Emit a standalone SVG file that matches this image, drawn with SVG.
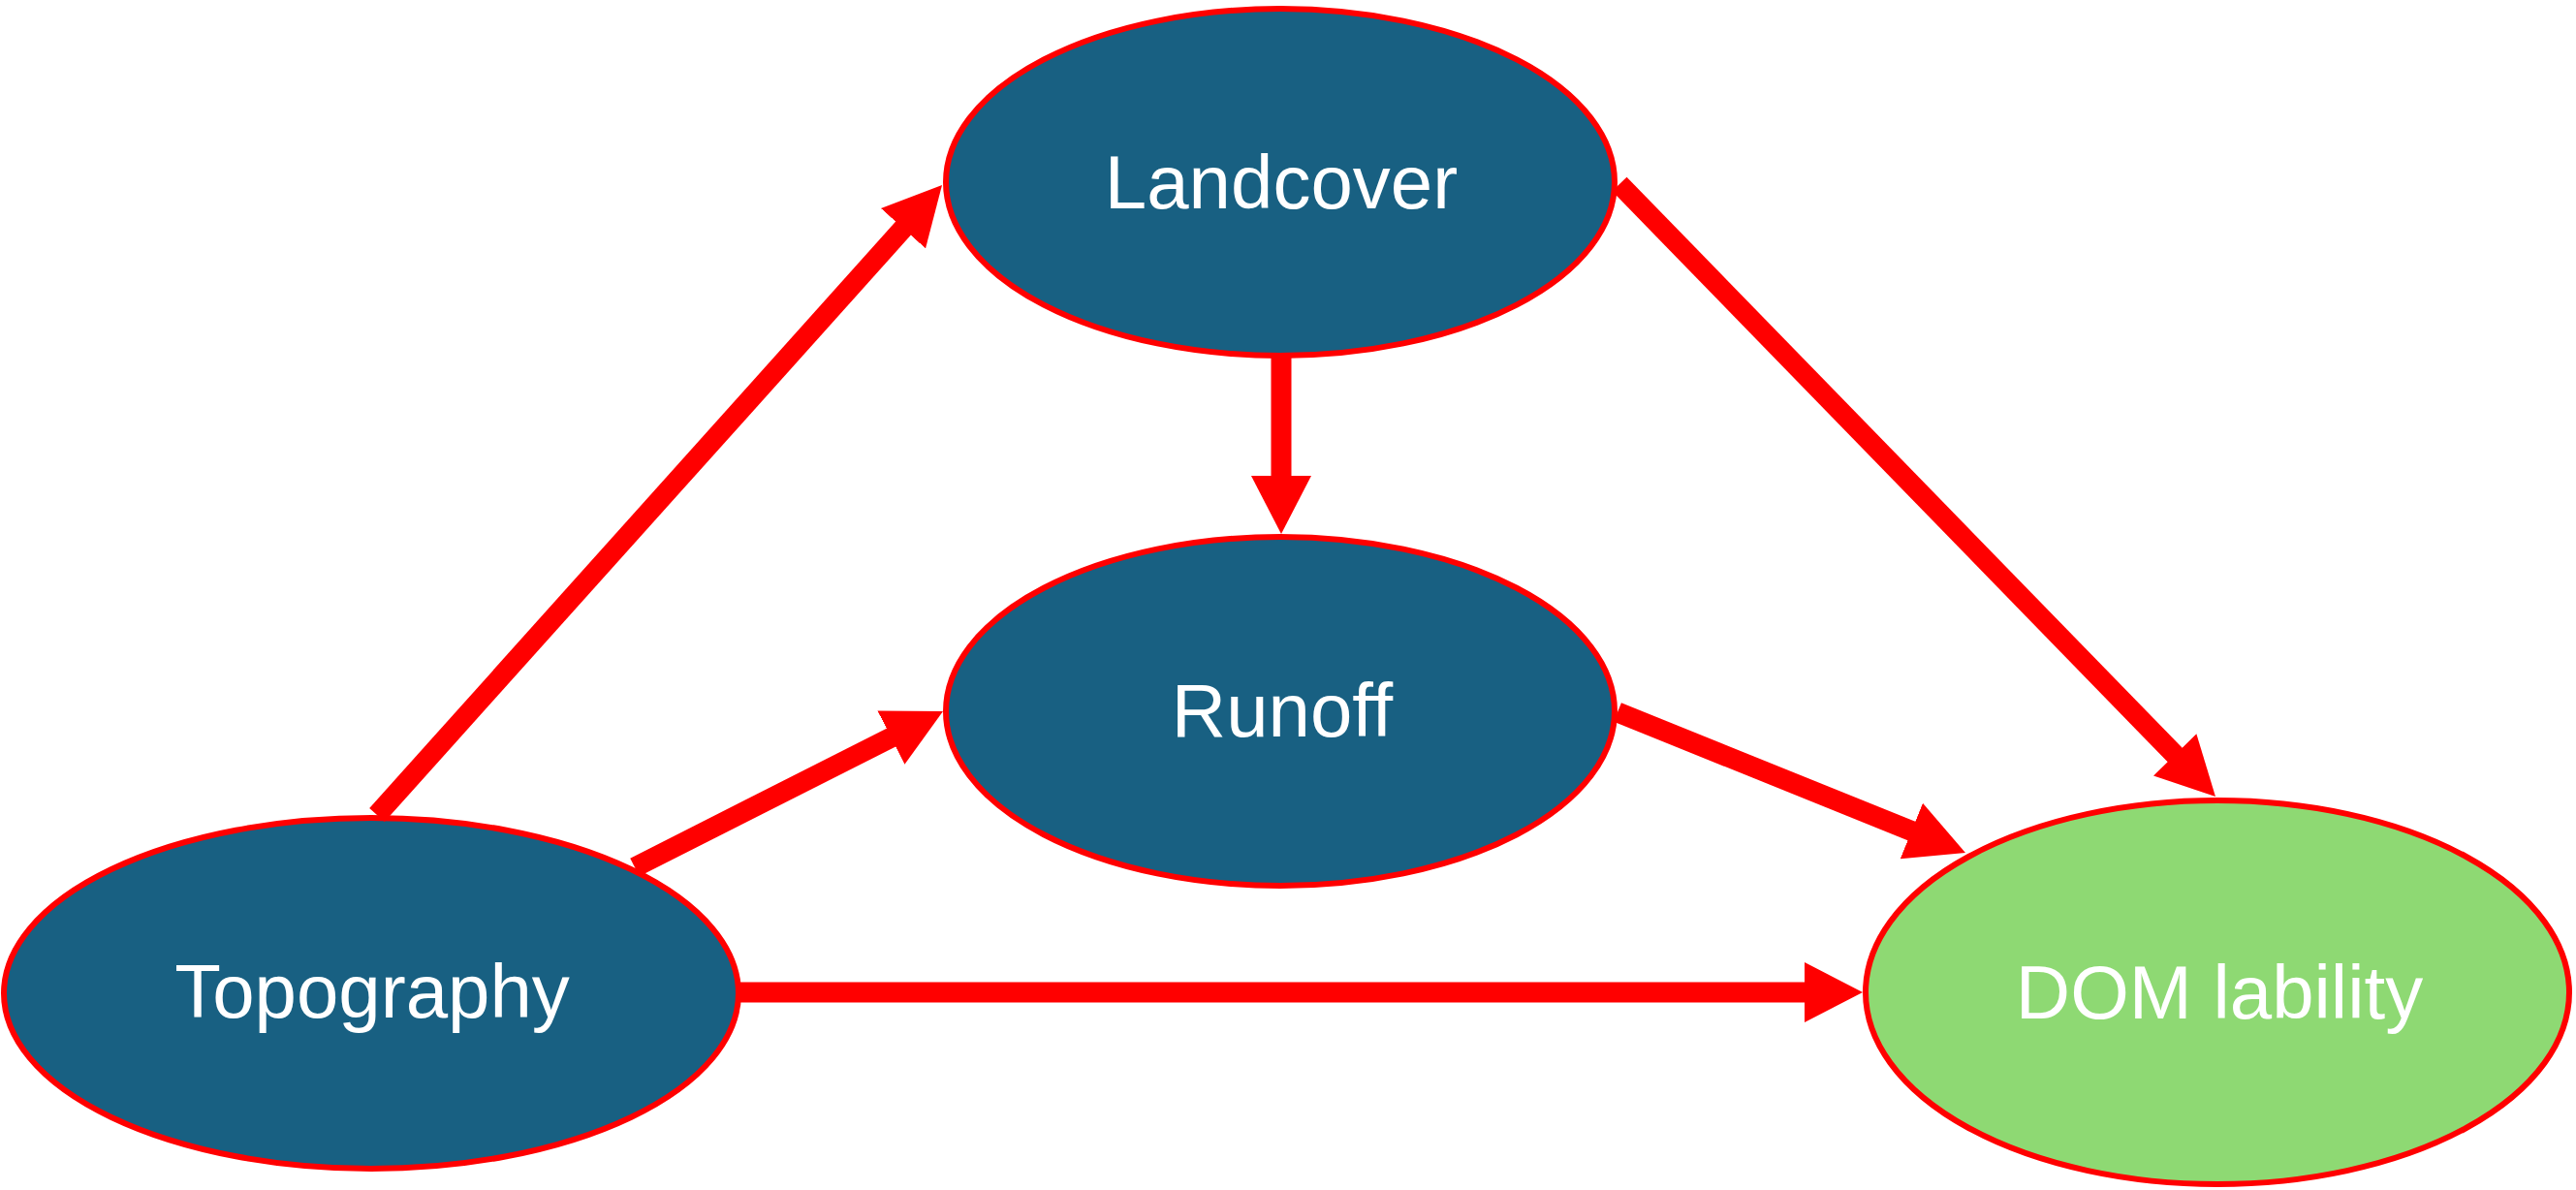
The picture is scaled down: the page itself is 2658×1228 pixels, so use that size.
<svg xmlns="http://www.w3.org/2000/svg" width="2658" height="1228" viewBox="0 0 2658 1228">
  <style>
    .node { stroke: #FF0000; stroke-width: 6; }
    .blue { fill: #186082; }
    .green { fill: #8ED973; }
    .label { font-family: "Liberation Sans", Arial, sans-serif; font-size: 78px; fill: #FFFFFF; text-anchor: middle; }
    .edge { stroke: #FF0000; stroke-width: 21; fill: none; marker-end: url(#head); }
  </style>
  <defs>
    <marker id="head" markerUnits="userSpaceOnUse" markerWidth="60" markerHeight="62" refX="20" refY="31" orient="auto" viewBox="0 0 60 62">
      <path d="M0,0 L60,31 L0,62 Z" fill="#FF0000"/>
    </marker>
  </defs>
  <rect width="2658" height="1228" fill="#FFFFFF"/>

  <g id="node-landcover">
    <ellipse class="node blue" cx="1321" cy="188" rx="345" ry="179"/>
    <text class="label" x="1322" y="215">Landcover</text>
  </g>
  <g id="node-runoff">
    <ellipse class="node blue" cx="1321" cy="734" rx="345" ry="180"/>
    <text class="label" x="1323" y="760">Runoff</text>
  </g>
  <g id="node-topography">
    <ellipse class="node blue" cx="383" cy="1025" rx="379" ry="181"/>
    <text class="label" x="384" y="1050">Topography</text>
  </g>
  <g id="node-dom">
    <ellipse class="node green" cx="2288" cy="1024" rx="363" ry="198"/>
    <text class="label" x="2290" y="1051">DOM lability</text>
  </g>

  <g id="connectors">
    <line class="edge" x1="389" y1="841" x2="945.3" y2="220.8"/>
    <line class="edge" x1="655" y1="895" x2="937.3" y2="752.1"/>
    <line class="edge" x1="762" y1="1024" x2="1882" y2="1024"/>
    <line class="edge" x1="1669" y1="735" x2="1990.9" y2="865"/>
    <line class="edge" x1="1671" y1="190" x2="2258.1" y2="793.3"/>
    <line class="edge" x1="1322" y1="369" x2="1322" y2="511"/>
  </g>
</svg>
